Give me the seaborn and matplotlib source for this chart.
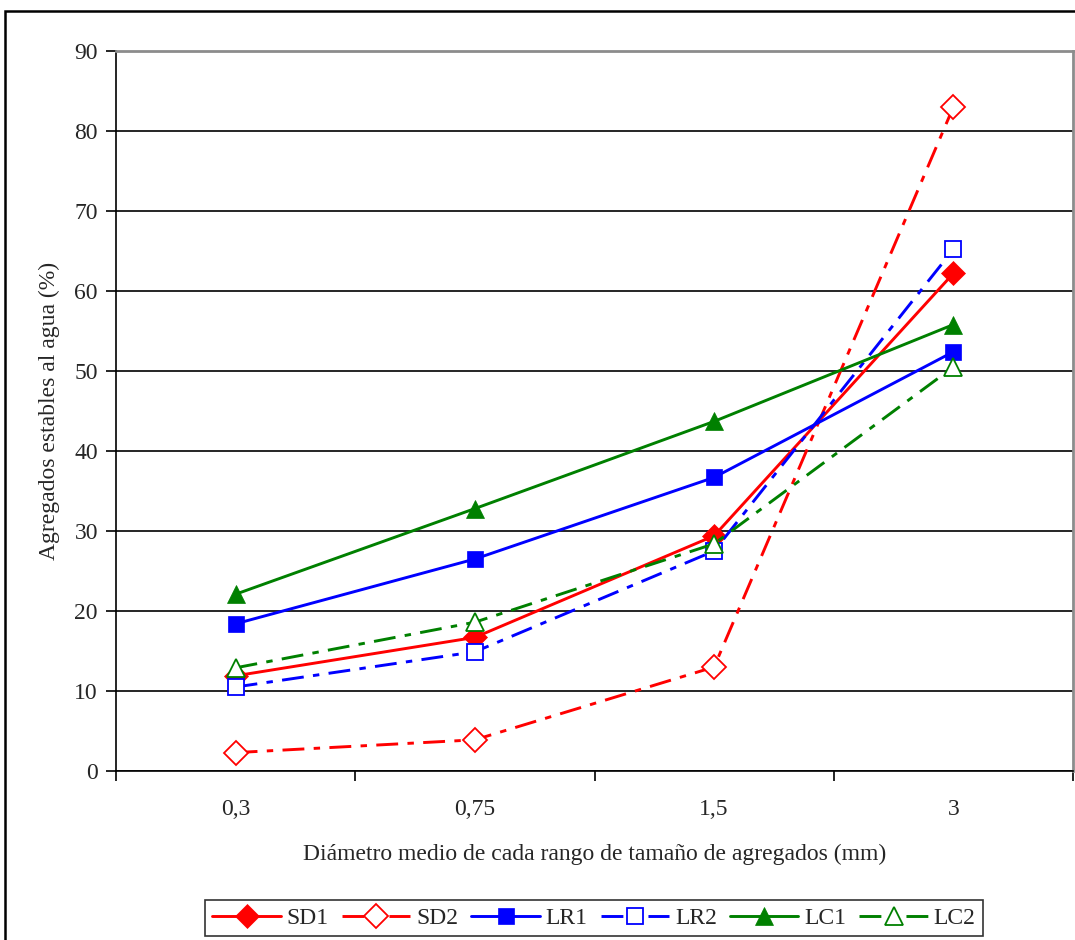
import matplotlib
matplotlib.use("Agg")
import matplotlib.pyplot as plt
from matplotlib.patches import Rectangle
import seaborn as sns
import pandas as pd

# Diameter classes (mm) and water-stable aggregate percentages per treatment
diametros = ["0,3", "0,75", "1,5", "3"]
sd1 = [11.9, 16.7, 29.4, 62.2]
sd2 = [2.3, 3.9, 13.0, 83.0]
lr1 = [18.4, 26.5, 36.7, 52.4]
lr2 = [10.5, 14.9, 27.5, 65.2]
lc1 = [22.1, 32.8, 43.7, 55.8]
lc2 = [12.9, 18.6, 28.4, 50.5]

series = {"SD1": sd1, "SD2": sd2, "LR1": lr1, "LR2": lr2, "LC1": lc1, "LC2": lc2}

rows = []
for name, vals in series.items():
    for i, v in enumerate(vals):
        rows.append({"serie": name, "pos": i, "valor": v})
df = pd.DataFrame(rows)

sns.set_theme(style="white")
plt.rcParams["font.family"] = ["Liberation Serif", "DejaVu Serif"]

dashdot = (0, (7.5, 3.2, 2.2, 3.2))
styles = {
    "SD1": dict(color="#FF0000", marker="D", ls="-", filled=True, ms=12),
    "SD2": dict(color="#FF0000", marker="D", ls=dashdot, filled=False, ms=12),
    "LR1": dict(color="#0000FF", marker="s", ls="-", filled=True, ms=12),
    "LR2": dict(color="#0000FF", marker="s", ls=dashdot, filled=False, ms=11.5),
    "LC1": dict(color="#008000", marker="^", ls="-", filled=True, ms=13),
    "LC2": dict(color="#008000", marker="^", ls=dashdot, filled=False, ms=13),
}

fig = plt.figure(figsize=(10.75, 9.4), dpi=100)
ax = fig.add_axes([116 / 1075, 1 - 771 / 940, (1073 - 116) / 1075, (771 - 51) / 940])

for name in series:
    st = styles[name]
    sub = df[df["serie"] == name]
    sns.lineplot(
        data=sub, x="pos", y="valor", ax=ax, label=name,
        color=st["color"], linewidth=2.1, linestyle=st["ls"],
        marker=st["marker"], markersize=st["ms"],
        markerfacecolor=st["color"] if st["filled"] else "white",
        markeredgecolor=st["color"],
        markeredgewidth=0.5 if st["filled"] else 1.3,
        errorbar=None, sort=False,
    )

ax.set_xlim(-0.5, 3.5)
ax.set_ylim(0, 90)
ax.set_yticks(range(0, 91, 10))
ax.yaxis.grid(True, color="black", linewidth=1.2)
ax.xaxis.grid(False)
ax.set_axisbelow(True)

# Category boundaries carry the tick marks; labels sit at category centres
ax.set_xticks([-0.5, 0.5, 1.5, 2.5, 3.5])
ax.set_xticklabels([])
ax.set_xticks(range(len(diametros)), minor=True)
ax.set_xticklabels(diametros, minor=True)
ax.tick_params(axis="x", which="major", length=7, width=1.2, color="black", direction="out", bottom=True)
ax.tick_params(axis="x", which="minor", length=0, pad=20, labelsize=17)
ax.tick_params(axis="y", length=7, width=1.2, color="black", direction="out", left=True, labelsize=17, pad=6)

for side in ("left", "bottom"):
    ax.spines[side].set_color("black")
    ax.spines[side].set_linewidth(1.2)
for side in ("top", "right"):
    ax.spines[side].set_color("#8c8c8c")
    ax.spines[side].set_linewidth(2)

ax.set_xlabel("Diámetro medio de cada rango de tamaño de agregados (mm)", fontsize=17, labelpad=17)
ax.set_ylabel("Agregados estables al agua (%)", fontsize=17, labelpad=10)

ax.legend_.remove()
handles, labels = ax.get_legend_handles_labels()
leg = fig.legend(
    handles, labels, ncol=6, loc="center", bbox_to_anchor=(594 / 1075, 1 - 918 / 940),
    frameon=True, fancybox=False, edgecolor="black", fontsize=17,
    handlelength=2.9, handletextpad=0.25, columnspacing=0.55, borderpad=0.3,
)
leg.get_frame().set_linewidth(1.2)

# Outer chart frame
fig.patches.append(Rectangle((5 / 1075, -0.05), 1.2, 1 - 11 / 940 + 0.05,
                             transform=fig.transFigure, fill=False,
                             edgecolor="black", linewidth=1.8))

fig.savefig("out.png", dpi=100, facecolor="white")
